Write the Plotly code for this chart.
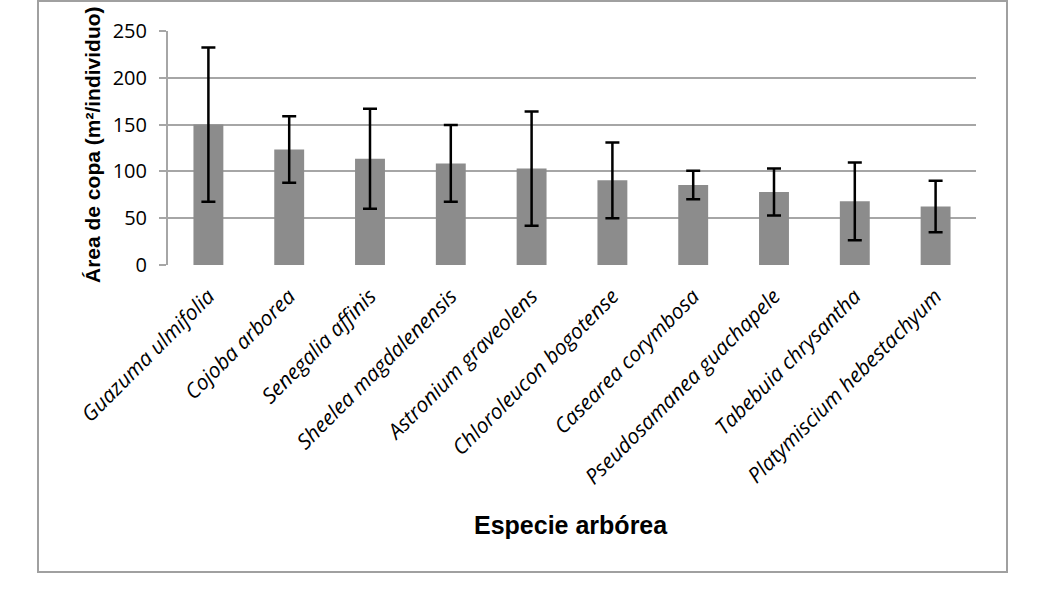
import plotly.graph_objects as go

species = ["Guazuma ulmifolia", "Cojoba arborea", "Senegalia affinis", "Sheelea magdalenensis",
           "Astronium graveolens", "Chloroleucon bogotense", "Casearea corymbosa",
           "Pseudosamanea guachapele", "Tabebuia chrysantha", "Platymiscium hebestachyum"]
mean_area = [150, 123.5, 113.5, 108.5, 103, 90.5, 85.5, 78, 68, 62.5]
sd_area = [82.5, 35.5, 53.5, 41, 61, 40.5, 15.3, 25, 41.5, 27.5]
y_ticks = [0, 50, 100, 150, 200, 250]

W, H = 1050, 594
# plot area in page pixels
L, R, T, B = 168, 976, 31, 265

def px(p):
    return (p - L) / (R - L)

def py(q):
    return (B - q) / (B - T)

fig = go.Figure(go.Bar(
    x=species, y=mean_area,
    marker=dict(color="#8c8c8c", line=dict(width=0)),
    error_y=dict(type="data", array=sd_area, visible=True, color="#000000", thickness=2.5, width=7),
))

fig.update_layout(
    width=W, height=H,
    margin=dict(l=L, r=W - R, t=T, b=H - B),
    paper_bgcolor="white", plot_bgcolor="white",
    bargap=0.63, showlegend=False,
    xaxis=dict(
        tickangle=-45, tickfont=dict(family="Open Sans", size=21, color="#000", style="italic"),
        showgrid=False, showline=False, ticks="", ticklabelstandoff=14,
    ),
    yaxis=dict(
        range=[0, 250], tickvals=y_ticks, showgrid=True, gridcolor="#a6a6a6", gridwidth=2,
        showline=True, linecolor="#a6a6a6", linewidth=2, ticks="outside", ticklen=7,
        tickcolor="#a6a6a6", tickwidth=2, ticklabelstandoff=8,
        tickfont=dict(family="Open Sans", size=20, color="#000"), zeroline=False,
    ),
    shapes=[dict(type="rect", xref="paper", yref="paper", x0=px(38), x1=px(1007),
                 y0=py(572), y1=py(1), line=dict(color="#a0a0a0", width=2), layer="below")],
    annotations=[
        dict(text="<b>Especie arbórea</b>", xref="paper", yref="paper", x=px(571), y=py(525),
             showarrow=False, font=dict(family="Liberation Sans", size=25, color="#000"),
             xanchor="center", yanchor="middle"),
        dict(text="<b>Área de copa (m²/individuo)</b>", xref="paper", yref="paper", x=px(92), y=py(145),
             showarrow=False, textangle=-90, font=dict(family="Liberation Sans", size=21, color="#000"),
             xanchor="center", yanchor="middle"),
    ],
)

fig.write_html("out.html", config={"displayModeBar": False},
               post_script="document.body.style.margin='0';")
